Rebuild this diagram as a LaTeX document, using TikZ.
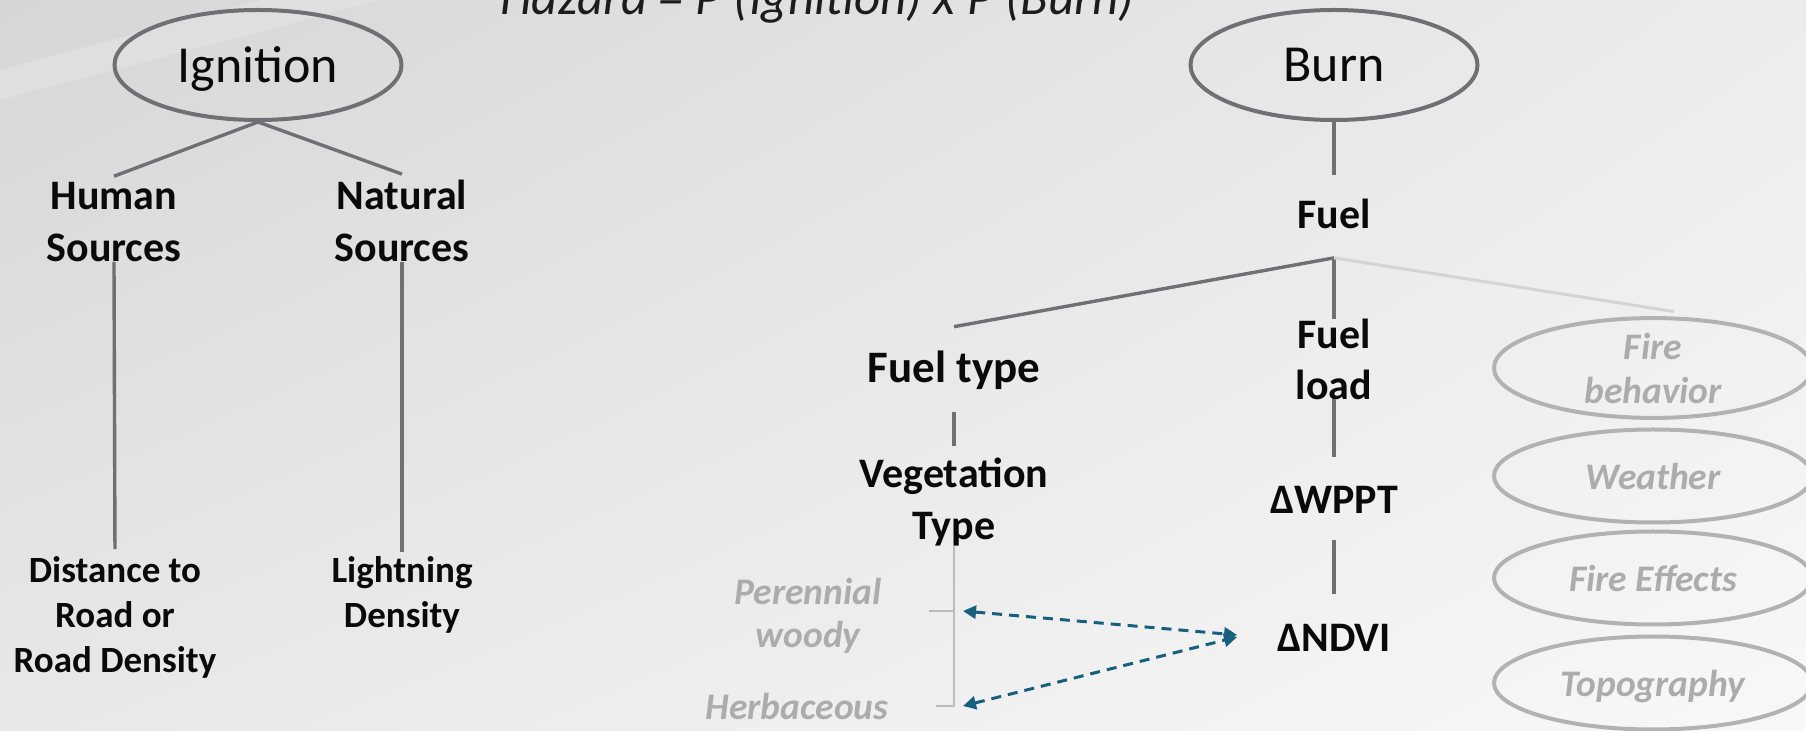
\documentclass[tikz,border=0pt]{standalone}
\usepackage{fontspec}
\setmainfont{Carlito}
\usetikzlibrary{shapes.geometric,arrows.meta,calc,shadings}

\definecolor{linegray}{RGB}{112,112,116}
\definecolor{paleline}{RGB}{212,212,212}
\definecolor{ghost}{RGB}{178,178,178}
\definecolor{ghosttext}{RGB}{172,172,172}
\definecolor{bracketgray}{RGB}{188,188,188}
\definecolor{linkteal}{RGB}{22,96,125}
\definecolor{ink}{RGB}{10,10,10}
\definecolor{titleink}{RGB}{28,28,28}
\definecolor{bgul}{RGB}{214,214,214}
\definecolor{bgur}{RGB}{236,236,236}
\definecolor{bgll}{RGB}{232,232,232}
\definecolor{bglr}{RGB}{248,248,248}

\begin{document}
\begin{tikzpicture}[x=0.5pt,y=-0.5pt,
  link/.style={draw=linegray,line width=1.7pt},
  faintlink/.style={draw=paleline,line width=1.5pt},
  mainoval/.style={ellipse,draw=linegray,line width=2pt,
    minimum width=143.5pt,minimum height=55pt,inner sep=0pt,
    text=ink,font=\fontsize{26}{30}\selectfont,text depth=0pt},
  ghostoval/.style={ellipse,draw=ghost,line width=2pt,
    minimum width=159pt,minimum height=46.5pt,inner sep=0pt,align=center,
    text=ghosttext,font=\fontsize{18.75}{22}\selectfont\bfseries\itshape},
  boldtext/.style={inner sep=0pt,outer sep=0pt,align=center,text=ink,
    font=\fontsize{21}{26}\selectfont\bfseries},
  smalltext/.style={boldtext,font=\fontsize{18.5}{22.5}\selectfont\bfseries},
  greytext/.style={inner sep=0pt,outer sep=0pt,align=center,text=ghosttext,
    font=\fontsize{18.75}{21.5}\selectfont\bfseries\itshape},
  bracket/.style={draw=bracketgray,line width=1.2pt},
  dual/.style={draw=linkteal,line width=1.5pt,dash pattern=on 5pt off 3.5pt,
    {Triangle[length=6.5pt,width=6.5pt]}-{Triangle[length=6.5pt,width=6.5pt]}}]

% canvas
\useasboundingbox (0,0) rectangle (1806,731);
\clip (0,0) rectangle (1806,731);
\shade[upper left=bgul,upper right=bgur,lower left=bgll,lower right=bglr]
  (0,0) rectangle (1806,731);
\fill[white,opacity=.18] (0,100) -- (0,70) -- (260,0) -- (380,0) -- cycle;

% heading
\node[anchor=base,inner sep=0pt,text=titleink,
  font=\fontsize{25.5}{30}\selectfont\itshape] (title) at (817,15)
  {Hazard = P (Ignition) x P (Burn)};

% ignition branch
\node[mainoval] (ign) at (258,65) {Ignition};
\node[boldtext] (human) at (114,222) {Human\\Sources};
\node[boldtext] (natural) at (402,221) {Natural\\Sources};
\node[smalltext] (dist) at (115,617) {Distance to\\Road or\\Road Density};
\node[smalltext] (light) at (402,595) {Lightning\\Density};

\draw[link] (ign.south) -- ([yshift=3pt]human.north);
\draw[link] (ign.south) -- ([yshift=3pt]natural.north);
\draw[link,shorten >=3.5pt] (human.south) -- (dist.north);
\draw[link,shorten >=2.5pt] (natural.south) -- (light.north);

% burn branch
\node[mainoval] (burn) at (1334,65) {Burn};
\node[boldtext] (fuel) at (1334,214) {Fuel};
\node[boldtext,font=\fontsize{22.5}{27}\selectfont\bfseries] (ftype) at (954,370) {Fuel type};
\node[boldtext,font=\fontsize{21}{25.5}\selectfont\bfseries] (fload) at (1334,359) {Fuel\\load};
\node[boldtext] (wppt) at (1334,500) {ΔWPPT};
\node[boldtext] (ndvi) at (1334,638) {ΔNDVI};
\node[boldtext] (veg) at (954,502) {Vegetation\\Type};
\node[greytext] (peren) at (808,616) {Perennial\\woody};
\node[greytext] (herb) at (797,706) {Herbaceous};

\node[ghostoval] (fb) at (1653,368) {Fire\\behavior};
\node[ghostoval] (wea) at (1653,476) {Weather};
\node[ghostoval] (eff) at (1653,578) {Fire Effects};
\node[ghostoval,text depth=0pt] (topo) at (1653,683) {Topography};

\coordinate (fork) at ([yshift=-14.5pt]fuel.south);

\draw[link,shorten >=12pt] (burn.south) -- (fuel.north);
\draw[link] (fork) -- ([yshift=12pt]ftype.north);
\draw[link] (fork) -- (fload.north);
\draw[faintlink] (fork) -- ([xshift=10.5pt,yshift=2.25pt]fb.north);
\draw[link,shorten >=14.5pt] (fload.south) -- (wppt.north);
\draw[link,shorten <=13pt,shorten >=15pt] (wppt.south) -- (ndvi.north);
\draw[link,shorten <=11.5pt,shorten >=6pt] (ftype.south) -- (veg.north);

% vegetation classes
\draw[bracket] (veg.south) -- (veg.south |- herb.center) -- ++(-9pt,0);
\draw[bracket] ([yshift=2.5pt]veg.south |- peren.center) -- ++(-12.5pt,0);

% links between vegetation classes and NDVI
\draw[dual] ([xshift=4.5pt,yshift=2.5pt]veg.south |- peren.center)
  -- ([xshift=-20pt,yshift=1.5pt]ndvi.west);
\draw[dual] ([xshift=4.5pt]veg.south |- herb.center)
  -- ([xshift=-20pt,yshift=0.5pt]ndvi.west);
\end{tikzpicture}
\end{document}
